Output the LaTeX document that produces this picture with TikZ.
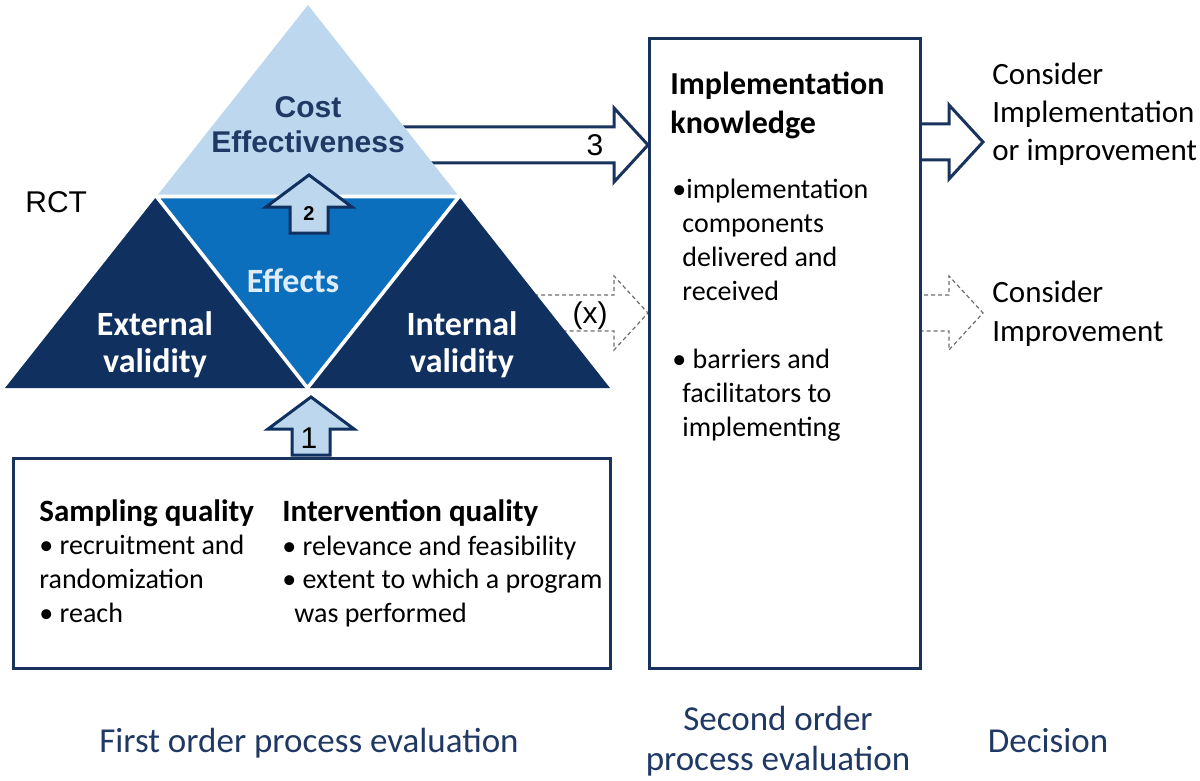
\documentclass[tikz,border=0pt]{standalone}
\usepackage{fontspec}
\setmainfont{Carlito}
\newfontfamily\arialf{Liberation Sans}
\usepackage{tikz}
\usetikzlibrary{calc,backgrounds,positioning}
\definecolor{bleuNuit}{RGB}{16,48,96}
\definecolor{bleuMoyen}{RGB}{12,111,190}
\definecolor{bleuPale}{RGB}{189,215,238}
\definecolor{bleuTexte}{RGB}{31,56,100}
\definecolor{bleuTrait}{RGB}{24,52,92}
\definecolor{grisTiret}{RGB}{110,110,110}
\definecolor{blancBleu}{RGB}{222,236,250}

\tikzset{
  pics/rarr/.style={code={
    \path[pic actions] (-#1,-18) -- (-34,-18) -- (-34,-37) -- (0,0)
      -- (-34,37) -- (-34,18) -- (-#1,18);}},
  pics/uarr/.style={code={
    \path[pic actions] (-#1,-19) -- (-32,-19) -- (-32,-43) -- (0,0)
      -- (-32,43) -- (-32,19) -- (-#1,19) -- cycle;}}
}

\begin{document}
\begin{tikzpicture}[x=0.5pt,y=-0.5pt,
  kbox/.style={draw=bleuTrait,line width=1.5pt,fill=white,inner sep=0pt},
  solidarr/.style={draw=bleuTrait,line width=1.5pt,fill=white},
  dasharr/.style={draw=grisTiret,line width=0.6pt,dash pattern=on 2pt off 1.5pt,fill=white},
  uparr/.style={draw=bleuNuit,line width=1.5pt,fill=bleuPale,rotate=90},
  tritxt/.style={font=\arialf\bfseries\fontsize{15}{17.5}\selectfont,text=bleuTexte,align=center},
  valtxt/.style={font=\bfseries\fontsize{17}{18.5}\selectfont,text=white,align=center},
  num/.style={font=\arialf\fontsize{15}{18}\selectfont},
  body/.style={anchor=north west,inner sep=0pt,align=left},
  lbl/.style={font=\fontsize{17.5}{20}\selectfont,text=bleuTexte,anchor=base}]

  \useasboundingbox (0,0) rectangle (1200,781);

  \coordinate (apex) at (308,5);
  \coordinate (bl) at (5,388);
  \coordinate (br) at (610,388);
  \coordinate (ml) at ($(apex)!0.5!(bl)$);
  \coordinate (mr) at ($(apex)!0.5!(br)$);
  \coordinate (mb) at ($(bl)!0.5!(br)$);

  \fill[bleuPale] (apex) -- (ml) -- (mr) -- cycle;
  \fill[bleuMoyen] (ml) -- (mr) -- (mb) -- cycle;
  \fill[bleuNuit] (bl) -- (ml) -- (mb) -- cycle;
  \fill[bleuNuit] (br) -- (mr) -- (mb) -- cycle;
  \draw[white,line width=1.8pt] (ml) -- (mr) -- (mb) -- cycle;

  \node[kbox,minimum width=135.5pt,minimum height=315pt,anchor=north west] (know) at (648,37) {};
  \node[kbox,minimum width=298.5pt,minimum height=105pt,anchor=north west] (qual) at (12,457) {};

  \begin{scope}[on background layer]
    \pic[solidarr] (a3) at ($(know.north west)+(0,108)$) {rarr=268};
    \pic[dasharr] (ax) at ($(know.north west)+(0,276)$) {rarr=128};
    \pic[solidarr] (dimp) at ($(know.north east)+(61,105)$) {rarr=80};
    \pic[dasharr] (damel) at ($(know.north east)+(61,276)$) {rarr=80};
  \end{scope}

  \pic[uparr] (a2) at (309,175) {uarr=58};
  \pic[uparr] (a1) at ($(qual.north)+(-1,-60)$) {uarr=58};

  \node[num,font=\arialf\bfseries\fontsize{10}{12}\selectfont] (n2) at (309,214) {2};
  \node[num] (n1) at (309,438) {1};
  \node[num] (n3) at (595,145) {3};
  \node[num] (nx) at (590,316) {(x)};
  \node[num,anchor=base west,inner sep=0pt] (rct) at (25,213) {RCT};

  \node[tritxt] (cost) at (308,125) {Cost\\Effectiveness};
  \node[valtxt,text=blancBleu,anchor=base] (eff) at (293,292) {Effects};
  \node[valtxt] (ext) at (155,345) {External\\validity};
  \node[valtxt] (int) at (462,345) {Internal\\validity};

  \node[body,font=\bfseries\fontsize{16}{19.5}\selectfont] (ktitle) at (670,72) {Implementation\\knowledge};
  \node[body,font=\fontsize{14}{17}\selectfont] (kitems) at (672,179)
    {\textbullet implementation\\\hspace*{5pt}components\\\hspace*{5pt}delivered and\\\hspace*{5pt}received\\[17pt]%
     \textbullet\ barriers and\\\hspace*{5pt}facilitators to\\\hspace*{5pt}implementing};

  \node[body,font=\fontsize{14}{16.9}\selectfont] (sampl) at (39,499)
    {{\bfseries\fontsize{15.5}{16.9}\selectfont Sampling quality}\\\textbullet\ recruitment and\\randomization\\\textbullet\ reach};
  \node[body,font=\fontsize{14}{16.9}\selectfont] (interv) at (282,499)
    {{\bfseries\fontsize{15.5}{16.9}\selectfont Intervention quality}\\\textbullet\ relevance and feasibility\\\textbullet\ extent to which a program\\\hspace*{6pt}was performed};

  \node[body,font=\fontsize{15.5}{19}\selectfont] (dec1) at (992,63) {Consider\\Implementation\\or improvement};
  \node[body,font=\fontsize{15.5}{19.5}\selectfont] (dec2) at (992,281) {Consider\\Improvement};

  \node[lbl] (first) at (309,752) {First order process evaluation};
  \node[lbl,anchor=center,align=center] (second) at (778,741) {Second order\\process evaluation};
  \node[lbl] (decis) at (1048,752) {Decision};
\end{tikzpicture}
\end{document}
